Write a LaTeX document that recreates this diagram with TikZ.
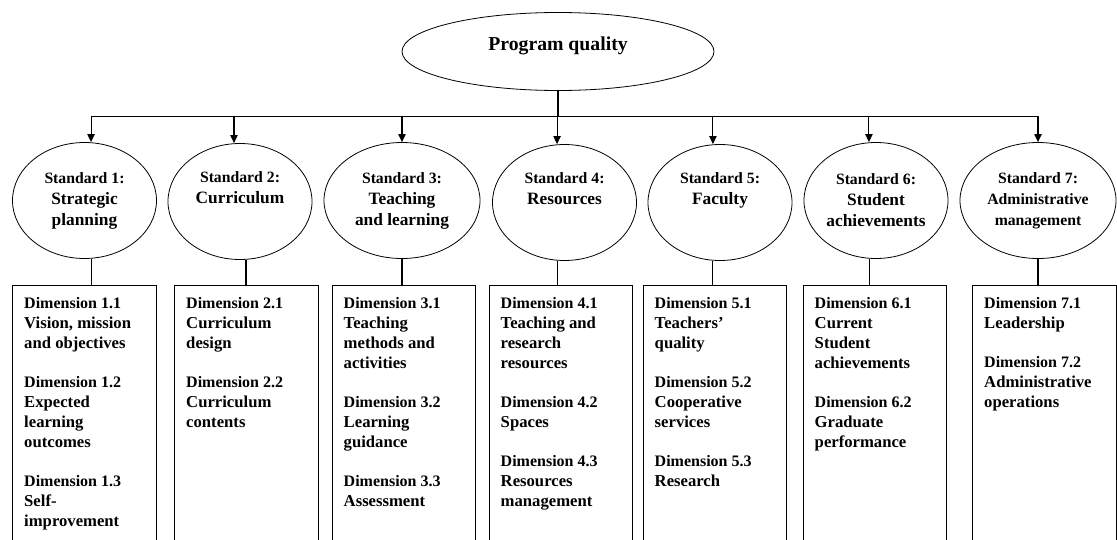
\documentclass[tikz,border=0pt]{standalone}
\usepackage{fontspec}
\setmainfont{Liberation Serif}
\usetikzlibrary{shapes.geometric,arrows.meta}

\newcommand{\titre}[1]{{\fontsize{13}{15.75}\selectfont #1}}
\newcommand{\dimn}[1]{{\fontsize{12}{15}\selectfont Dimension #1}}
\newcommand{\liste}[1]{\parbox[t][200pt][t]{90.4pt}{\raggedright\fontsize{12.5}{15}\selectfont #1}}

\tikzset{ovale/.style = {ellipse, draw, line width=0.6pt, inner sep=0pt,
                         minimum width=#1, minimum height=87pt, align=center,
                         font=\bfseries\fontsize{11.8}{15.75}\selectfont},
         ovale/.default=108pt,
         boite/.style = {rectangle, draw, line width=0.9pt, anchor=north,
                         inner xsep=8.6pt, inner ysep=9pt, font=\bfseries},
         fleche/.style = {line width=0.8pt, -{Triangle[length=6pt,width=5.5pt]}},
         tige/.style = {line width=0.8pt}
        }

\begin{document}
\begin{tikzpicture}[x=0.75pt,y=-0.75pt]
\useasboundingbox (0,0) rectangle (1117,539);
\clip (0,0) rectangle (1117,539);
\node[ovale=234pt, minimum height=58.5pt, font=\bfseries\fontsize{14.8}{18}\selectfont,
      text height=10.5pt, text depth=12.5pt] at (558,51.5) (pq) {Program quality};
\node[ovale] at (84.5,200.5) (s1) {Standard 1:\\\titre{Strategic}\\\titre{planning}};
\node[ovale] at (240,201.5) (s2) {Standard 2:\\\titre{Curriculum}\\\strut};
\node[ovale=117pt] at (402,200.5) (s3) {Standard 3:\\\titre{Teaching}\\\titre{and learning}};
\node[ovale] at (564.5,202.5) (s4) {Standard 4:\\\titre{Resources}\\\strut};
\node[ovale] at (720,202.5) (s5) {Standard 5:\\\titre{Faculty}\\\strut};
\node[ovale] at (876,200.5) (s6) {Standard 6:\\\titre{Student}\\\titre{achievements}};
\node[ovale=117pt] at (1038,200.5) (s7) {Standard 7:\\Administrative\\management};

\node[boite] at (84.5,285) (d1) {\liste{\dimn{1.1}\\Vision, mission\\and objectives\\[14pt]
  \dimn{1.2}\\Expected\\learning\\outcomes\\[14pt]
  \dimn{1.3}\\Self-\\improvement}};
\node[boite] at (246.5,285) (d2) {\liste{\dimn{2.1}\\Curriculum\\design\\[14pt]
  \dimn{2.2}\\Curriculum\\contents}};
\node[boite] at (404,285) (d3) {\liste{\dimn{3.1}\\Teaching\\methods and\\activities\\[14pt]
  \dimn{3.2}\\Learning\\guidance\\[14pt]
  \dimn{3.3}\\Assessment}};
\node[boite] at (561,285) (d4) {\liste{\dimn{4.1}\\Teaching and\\research\\resources\\[14pt]
  \dimn{4.2}\\Spaces\\[14pt]
  \dimn{4.3}\\Resources\\management}};
\node[boite] at (715,285) (d5) {\liste{\dimn{5.1}\\Teachers’\\quality\\[14pt]
  \dimn{5.2}\\Cooperative\\services\\[14pt]
  \dimn{5.3}\\Research}};
\node[boite] at (875,285) (d6) {\liste{\dimn{6.1}\\Current\\Student\\achievements\\[14pt]
  \dimn{6.2}\\Graduate\\performance}};
\node[boite] at (1044.5,285) (d7) {\liste{\dimn{7.1}\\Leadership\\[14pt]
  \dimn{7.2}\\Administrative\\operations}};

\draw[fleche] (pq.south) -- ++(0,26) -| ([xshift=4.9pt]s1.north);
\draw[fleche] (pq.south) -- ++(0,26) -| ([xshift=-4.5pt]s2.north);
\draw[fleche] (pq.south) -- ++(0,26) -| (s3.north);
\draw[fleche] (pq.south) -- ++(0,26) -| ([xshift=-5.6pt]s4.north);
\draw[fleche] (pq.south) -- ++(0,26) -| ([xshift=-5.3pt]s5.north);
\draw[fleche] (pq.south) -- ++(0,26) -| ([xshift=-5.3pt]s6.north);
\draw[fleche] (pq.south) -- ++(0,26) -| (s7.north);

\draw[tige] ([xshift=4.9pt]s1.south) -- ([xshift=4.9pt]s1.south |- d1.north);
\draw[tige] ([xshift=4.5pt]s2.south) -- ([xshift=4.5pt]s2.south |- d2.north);
\draw[tige] (s3.south) -- (s3.south |- d3.north);
\draw[tige] ([xshift=-5.6pt]s4.south) -- ([xshift=-5.6pt]s4.south |- d4.north);
\draw[tige] ([xshift=-5.3pt]s5.south) -- ([xshift=-5.3pt]s5.south |- d5.north);
\draw[tige] ([xshift=-5pt]s6.south) -- ([xshift=-5pt]s6.south |- d6.north);
\draw[tige] (s7.south) -- (s7.south |- d7.north);
\end{tikzpicture}
\end{document}
